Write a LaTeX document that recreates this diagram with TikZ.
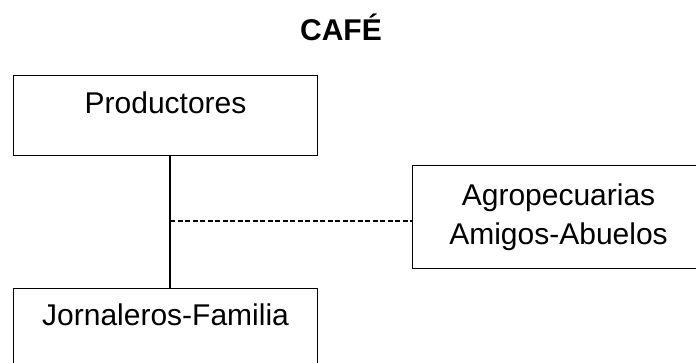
\documentclass[tikz,border=0pt]{standalone}
\usepackage{fontspec}
\setmainfont{Liberation Sans}
\usepackage{tikz}

\begin{document}
\begin{tikzpicture}[x=1pt,y=-1pt,line width=1.1pt]

          \useasboundingbox (0,0) rectangle (696,362);
          \clip (0,0) rectangle (696,362);

          \node (0) [anchor=base, font=\fontsize{30}{36}\selectfont\bfseries] at (341,40) {CAFÉ};

          \begin{scope}[every node/.style={rectangle, draw, anchor=north west, inner sep=0pt,
                        font=\fontsize{30}{39}\selectfont}]
            \node (1) [minimum width=304pt, text height=38pt, text depth=42pt] at (13,75)  {Productores};
            \node (2) [minimum width=304pt, text height=37pt, text depth=70pt] at (13,288) {Jornaleros-Familia};
            \node (3) [minimum width=292pt, minimum height=103pt, align=center] at (412,165) {Agropecuarias\\Amigos-Abuelos};
          \end{scope}

          \coordinate (m) at (170,221);

          \begin{scope}[every edge/.style={draw}]
            \path (1.south -| m) edge (2.north -| m);
            \path (m) edge[dash pattern=on 5pt off 2.5pt] (3.west |- m);
          \end{scope}

        \end{tikzpicture}
\end{document}
